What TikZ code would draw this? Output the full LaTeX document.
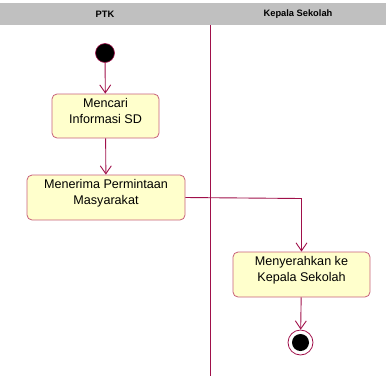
\documentclass[tikz,border=0pt]{standalone}
\usepackage{fontspec}
\setmainfont{Liberation Sans}
\usetikzlibrary{arrows.meta,positioning}
\definecolor{lineRed}{HTML}{A0104A}
\definecolor{boxBorder}{HTML}{C8607A}
\definecolor{boxFill}{HTML}{FFFFCC}
\definecolor{headGray}{HTML}{C0C0C0}
\begin{document}
\begin{tikzpicture}[x=1pt,y=-1pt,
  actbox/.style={draw=boxBorder,fill=boxFill,rounded corners=5pt,line width=0.8pt,inner sep=0pt},
  acttext/.style={align=center,font=\fontsize{12.6}{15.5}\selectfont,inner sep=0pt},
  flow/.style={draw=lineRed,line width=0.9pt,-{Straight Barb[length=8pt,width=11pt,line width=0.9pt]}},
  headtext/.style={font=\bfseries\fontsize{9.3}{11}\selectfont}]
\useasboundingbox (0,0) rectangle (386,376);
% header
\fill[headGray] (0,3) rectangle (386,25);
\node[headtext] (hptk) at (105,14) {PTK};
\node[headtext] (hks) at (298,14) {Kepala Sekolah};
% divider
\coordinate (divtop) at (210,25);
\coordinate (divbot) at (210,376);
\draw[lineRed,line width=1pt] (divtop) -- (divbot);
% start
\node[circle,fill=black,draw=lineRed,line width=0.6pt,minimum size=19pt,inner sep=0pt] (start) at (105,53) {};
% activities
\node[actbox,minimum width=107pt,minimum height=44pt] (a1) at (105.5,116) {};
\node[acttext] (t1) at (105.5,111) {Mencari\\Informasi SD};
\node[actbox,minimum width=158pt,minimum height=45pt] (a2) at (106,197.5) {};
\node[acttext] (t2) at (106,193) {Menerima Permintaan\\Masyarakat};
\node[actbox,minimum width=137pt,minimum height=45pt] (a3) at (301.5,274.5) {};
\node[acttext] (t3) at (301.5,270) {Menyerahkan ke\\Kepala Sekolah};
% end
\node[circle,draw=lineRed,fill=white,line width=0.8pt,minimum size=25pt,inner sep=0pt] (stop) at (300.5,342.5) {};
\node[circle,fill=black,minimum size=17pt,inner sep=0pt] (stopin) at (stop.center) {};
% flows
\draw[flow] (start) -- (a1);
\draw[flow] (a1) -- (a2);
\draw[flow] (a2.east) -- (301.5,198.5) -- (a3.north);
\draw[flow] (a3) -- (stop);
\end{tikzpicture}
\end{document}
